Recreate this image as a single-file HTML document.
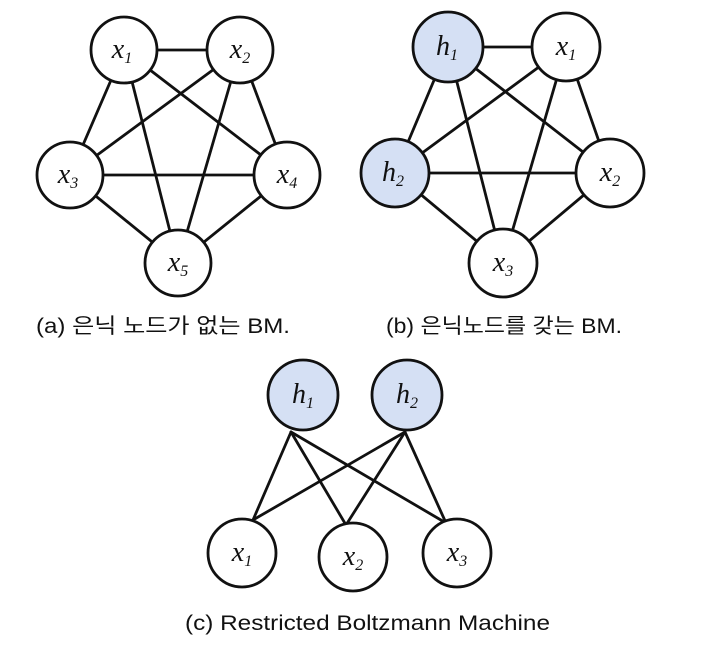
<!DOCTYPE html>
<html><head><meta charset="utf-8"><style>
html,body{margin:0;padding:0;background:#fff;width:720px;height:647px;overflow:hidden}
text{font-family:"Liberation Serif","Noto Sans CJK KR",serif;fill:#111}
.l{font-family:"Liberation Sans","Noto Sans CJK KR",sans-serif;font-size:21px}
</style></head><body>
<svg width="720" height="647" viewBox="0 0 720 647" xmlns="http://www.w3.org/2000/svg">
<g stroke="#111" stroke-width="2.8" fill="none" stroke-linecap="round">
<line x1="124" y1="50" x2="240" y2="50"/>
<line x1="124" y1="50" x2="70" y2="175"/>
<line x1="124" y1="50" x2="287" y2="175"/>
<line x1="124" y1="50" x2="178" y2="263"/>
<line x1="240" y1="50" x2="70" y2="175"/>
<line x1="240" y1="50" x2="287" y2="175"/>
<line x1="240" y1="50" x2="178" y2="263"/>
<line x1="70" y1="175" x2="287" y2="175"/>
<line x1="70" y1="175" x2="178" y2="263"/>
<line x1="287" y1="175" x2="178" y2="263"/>
<line x1="448" y1="47" x2="566" y2="47"/>
<line x1="448" y1="47" x2="395" y2="173"/>
<line x1="448" y1="47" x2="610" y2="173"/>
<line x1="448" y1="47" x2="503" y2="263"/>
<line x1="566" y1="47" x2="395" y2="173"/>
<line x1="566" y1="47" x2="610" y2="173"/>
<line x1="566" y1="47" x2="503" y2="263"/>
<line x1="395" y1="173" x2="610" y2="173"/>
<line x1="395" y1="173" x2="503" y2="263"/>
<line x1="610" y1="173" x2="503" y2="263"/>
<line x1="291" y1="432" x2="253" y2="520"/>
<line x1="291" y1="432" x2="346" y2="525"/>
<line x1="291" y1="432" x2="446" y2="523"/>
<line x1="405" y1="432" x2="253" y2="520"/>
<line x1="405" y1="432" x2="346" y2="525"/>
<line x1="405" y1="432" x2="446" y2="523"/>
</g>
<g stroke="#111" stroke-width="2.8" fill="#fff">
<circle cx="124" cy="50" r="33"/><circle cx="240" cy="50" r="33"/>
<circle cx="70" cy="175" r="33"/><circle cx="287" cy="175" r="33"/>
<circle cx="178" cy="263" r="33"/>
<circle cx="448" cy="47" r="35" fill="#d5e0f4"/><circle cx="566" cy="47" r="34"/>
<circle cx="395" cy="173" r="34" fill="#d5e0f4"/><circle cx="610" cy="173" r="34"/>
<circle cx="503" cy="263" r="34"/>
<circle cx="303" cy="395" r="35" fill="#d5e0f4"/><circle cx="407" cy="395" r="35" fill="#d5e0f4"/>
<circle cx="242" cy="553" r="34"/><circle cx="353" cy="557" r="34"/><circle cx="457" cy="553" r="34"/>
</g>
<g font-size="28" font-style="italic" text-anchor="middle">
<text x="122" y="58">x<tspan font-size="16" dy="5">1</tspan></text>
<text x="240" y="58">x<tspan font-size="16" dy="5">2</tspan></text>
<text x="68" y="183">x<tspan font-size="16" dy="5">3</tspan></text>
<text x="287" y="183">x<tspan font-size="16" dy="5">4</tspan></text>
<text x="178" y="271">x<tspan font-size="16" dy="5">5</tspan></text>
<text x="447" y="55">h<tspan font-size="16" dy="5">1</tspan></text>
<text x="566" y="55">x<tspan font-size="16" dy="5">1</tspan></text>
<text x="393" y="181">h<tspan font-size="16" dy="5">2</tspan></text>
<text x="610" y="181">x<tspan font-size="16" dy="5">2</tspan></text>
<text x="503" y="271">x<tspan font-size="16" dy="5">3</tspan></text>
<text x="303" y="403">h<tspan font-size="16" dy="5">1</tspan></text>
<text x="407" y="403">h<tspan font-size="16" dy="5">2</tspan></text>
<text x="242" y="561">x<tspan font-size="16" dy="5">1</tspan></text>
<text x="353" y="565">x<tspan font-size="16" dy="5">2</tspan></text>
<text x="457" y="561">x<tspan font-size="16" dy="5">3</tspan></text>
</g>
<text class="l" x="36" y="333" textLength="254" lengthAdjust="spacingAndGlyphs">(a) 은닉 노드가 없는 BM.</text>
<text class="l" x="386" y="333" textLength="236" lengthAdjust="spacingAndGlyphs">(b) 은닉노드를 갖는 BM.</text>
<text class="l" x="185" y="630" textLength="365" lengthAdjust="spacingAndGlyphs">(c) Restricted Boltzmann Machine</text>
</svg>
</body></html>
